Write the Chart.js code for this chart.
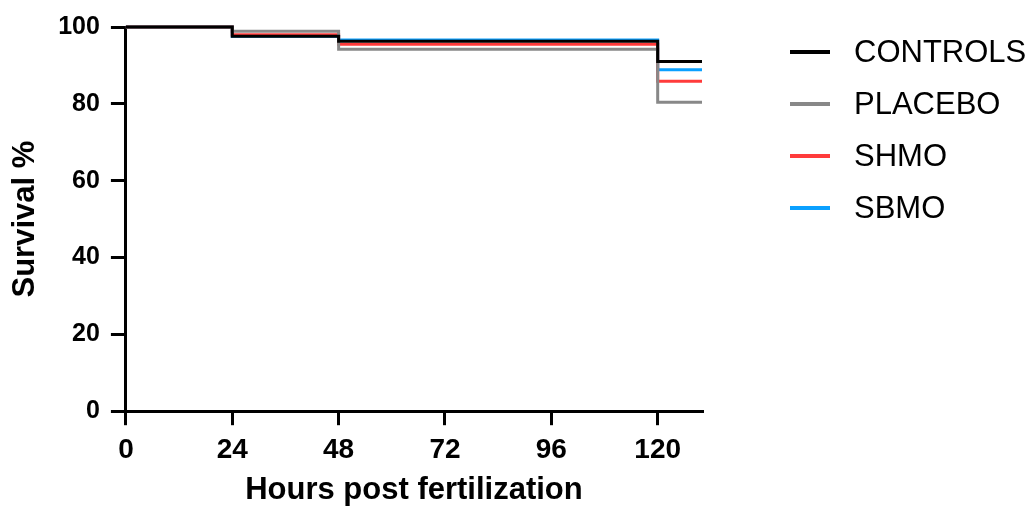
<!DOCTYPE html>
<html>
<head>
<meta charset="utf-8">
<script src="https://cdn.jsdelivr.net/npm/chart.js@4/dist/chart.umd.min.js"></script>
<style>
  html, body { margin: 0; padding: 0; background: #fff; }
  .chart-wrapper { width: 1030px; height: 512px; }
</style>
</head>
<body>
<div class="chart-wrapper">
  <canvas id="survivalChart"></canvas>
</div>
<script>
// hours where the curves step
const hours = [0, 24, 48, 120, 130];
const xTicks = [0, 24, 48, 72, 96, 120];

// survival % at the end of each interval (step-before)
const controls = [100, 97.6, 96.3, 91.0, 91.0];
const placebo  = [100, 98.9, 94.2, 80.4, 80.4];
const shmo     = [100, 98.0, 95.5, 85.9, 85.9];
const sbmo     = [100, 97.6, 96.6, 88.9, 88.9];

const groups = ['CONTROLS', 'PLACEBO', 'SHMO', 'SBMO'];
const colors = ['#000000', '#888888', '#ff3b3b', '#0aa0ff'];
const series = [controls, placebo, shmo, sbmo];

const FONT = "'Liberation Sans', Arial, sans-serif";

let datasets = groups.map((name, i) => ({
  label: name,
  data: hours.map((h, j) => ({ x: h, y: series[i][j] })),
  borderColor: colors[i],
  backgroundColor: colors[i],
  borderWidth: 3,
  stepped: true,
  pointRadius: 0,
  clip: false,
  fill: false
}));

// legend drawn on the right, line sample + label
const sideLegend = {
  id: 'sideLegend',
  afterDraw(chart) {
    const c = chart.ctx;
    const left = chart.chartArea.right + 88;
    c.save();
    c.font = "31px " + FONT;
    c.textBaseline = 'middle';
    c.textAlign = 'left';
    groups.forEach((name, i) => {
      const y = chart.chartArea.top + 25 + i * 52;
      c.fillStyle = colors[i];
      c.fillRect(left, y - 2, 40, 4);
      c.fillStyle = '#000';
      c.fillText(name, left + 64, y + 1);
    });
    c.restore();
  }
};

let ctx = document.getElementById('survivalChart').getContext('2d');
let survivalChart = new Chart(ctx, {
  type: 'line',
  data: { datasets: datasets },
  plugins: [sideLegend],
  options: {
    responsive: true,
    maintainAspectRatio: false,
    animation: false,
    layout: { padding: { top: 27, left: 7, bottom: 0, right: 328 } },
    plugins: {
      tooltip: { enabled: false },
      legend: { display: false }
    },
    scales: {
      x: {
        type: 'linear',
        min: 0,
        max: 130,
        afterBuildTicks(scale) {
          scale.ticks = xTicks.map(v => ({ value: v }));
        },
        border: { color: '#000', width: 3 },
        grid: { display: true, drawOnChartArea: false, drawTicks: true, tickLength: 14, color: '#000', lineWidth: 3 },
        ticks: { color: '#000', font: { family: FONT, size: 28, weight: 'bold' }, padding: 8, maxRotation: 0 },
        title: { display: true, text: 'Hours post fertilization', color: '#000', font: { family: FONT, size: 31, weight: 'bold' }, padding: { top: -3, bottom: 3 } }
      },
      y: {
        min: 0,
        max: 100,
        ticks: { stepSize: 20, color: '#000', font: { family: FONT, size: 25, weight: 'bold' }, padding: 11 },
        border: { color: '#000', width: 3 },
        grid: { display: true, drawOnChartArea: false, drawTicks: true, tickLength: 15, color: '#000', lineWidth: 3 },
        title: { display: true, text: 'Survival %', color: '#000', font: { family: FONT, size: 31, weight: 'bold' }, padding: { top: 0, bottom: 3 } }
      }
    }
  }
});
</script>
</body>
</html>
